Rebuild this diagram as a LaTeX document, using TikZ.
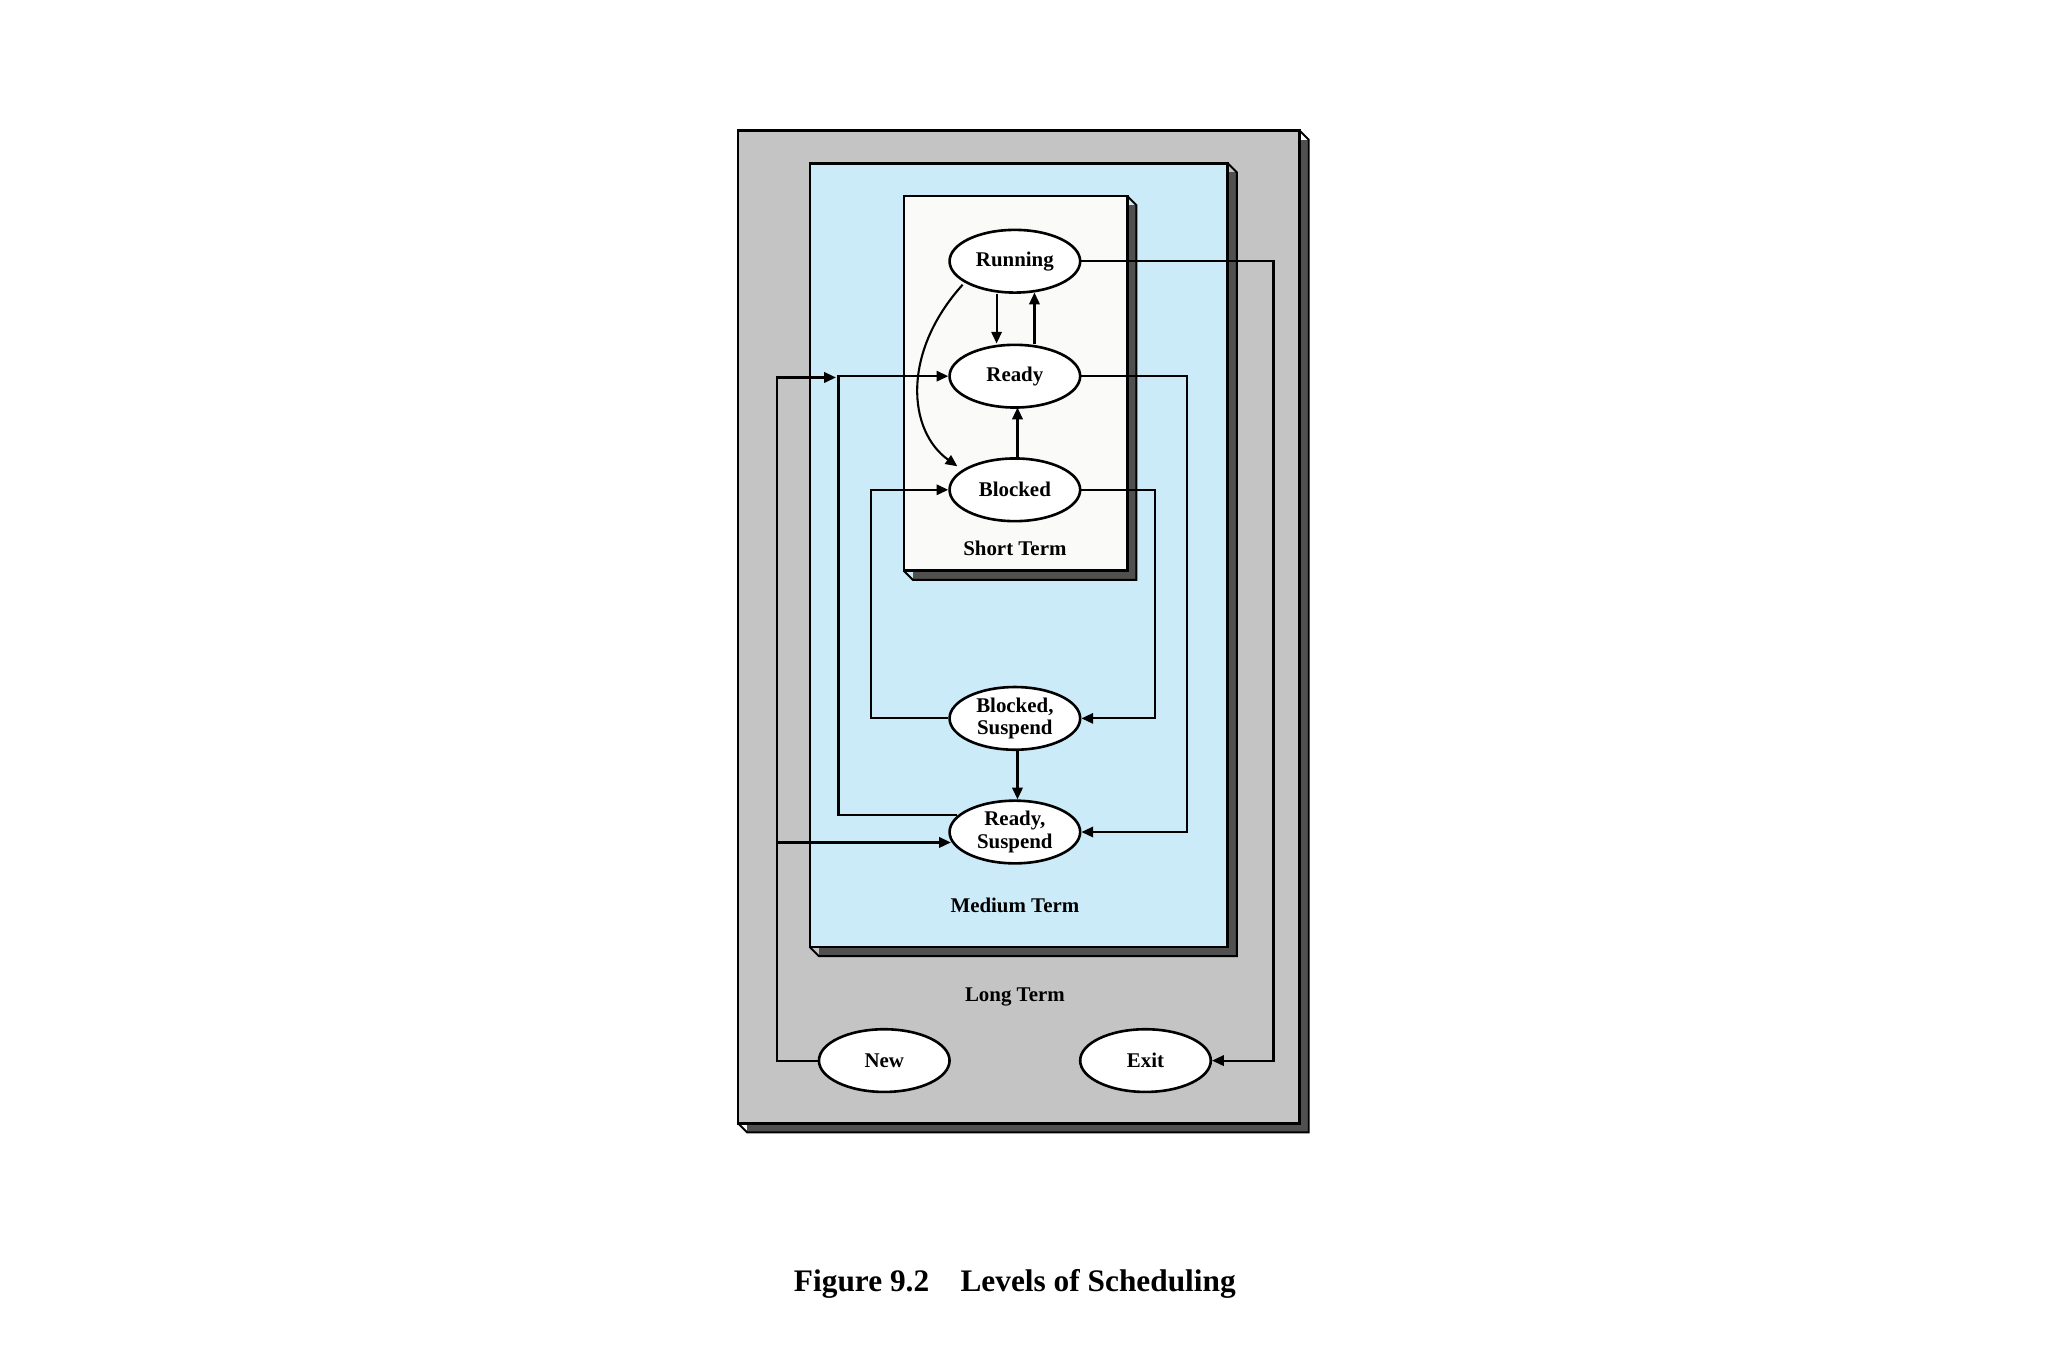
\documentclass[tikz,border=0pt]{standalone}
\usepackage{fontspec}
\setmainfont{Liberation Serif}
\usetikzlibrary{arrows.meta,shapes.geometric}
\definecolor{gbox}{HTML}{C4C4C4}
\definecolor{bbox}{HTML}{CCEBF9}
\definecolor{wbox}{HTML}{FAFAF8}
\definecolor{shad}{HTML}{505050}
\begin{document}
\begin{tikzpicture}[x=1pt,y=-1pt,
  st/.style={ellipse,draw,line width=2pt,fill=white,minimum width=100pt,minimum height=48pt,inner sep=0pt,align=center,font=\fontsize{16}{17}\selectfont\bfseries},
  lbl/.style={font=\fontsize{16}{18}\selectfont\bfseries},
  ar/.style={line width=1.6pt,-{Triangle[length=9pt,width=8pt]}}]
\useasboundingbox (0,0) rectangle (1568,1045);
\fill[white] (0,0) rectangle (1568,1045);
\newcommand{\shbox}[5]{%
  \fill[shad] (#1+7,#2+7) rectangle (#3+7,#4+7);
  \draw[line width=1.5pt] (#1,#4)--(#1+7,#4+7)--(#3+7,#4+7)--(#3+7,#2+7)--(#3,#2);
  \filldraw[fill=#5,line width=2pt] (#1,#2) rectangle (#3,#4);}
\shbox{565}{100}{995}{860}{gbox}
\shbox{620}{125}{940}{725}{bbox}
\shbox{692}{150}{863}{437}{wbox}
\node[st] (run) at (777,200) {Running};
\node[st] (rdy) at (777,288) {Ready};
\node[st] (blk) at (777,375) {Blocked};
\node[st] (bs) at (777,550) {Blocked,\\Suspend};
\node[st] (rs) at (777,637) {Ready,\\Suspend};
\node[st] (new) at (677,812) {New};
\node[st] (exit) at (877,812) {Exit};
\node[lbl] (l1) at (777,420) {Short Term};
\node[lbl] (l2) at (777,693) {Medium Term};
\node[lbl] (l3) at (777,763) {Long Term};
\node[font=\fontsize{24}{26}\selectfont\bfseries] (t) at (777,983) {Figure 9.2\quad Levels of Scheduling};
\draw[ar] (763,225) -- (763,263);
\draw[ar] (792,263) -- (792,224);
\draw[ar] (779,350) -- (779,312);
\draw[ar] (737,218) .. controls (690,270) and (695,330) .. (733,357);
\draw[ar] (run.east) -- (975,200) -- (975,812) -- (exit.east);
\draw[ar] (rdy.east) -- (909,288) -- (909,637) -- (rs.east);
\draw[ar] (blk.east) -- (884,375) -- (884,550) -- (bs.east);
\draw[ar] (bs.west) -- (667,550) -- (667,375) -- (blk.west);
\draw[ar] (733,624) -- (642,624) -- (642,288) -- (rdy.west);
\draw[ar] (new.west) -- (595,812) -- (595,289) -- (640,289);
\draw[ar] (595,645) -- (728,645);
\draw[ar] (779,575) -- (779,612);
\end{tikzpicture}
\end{document}
